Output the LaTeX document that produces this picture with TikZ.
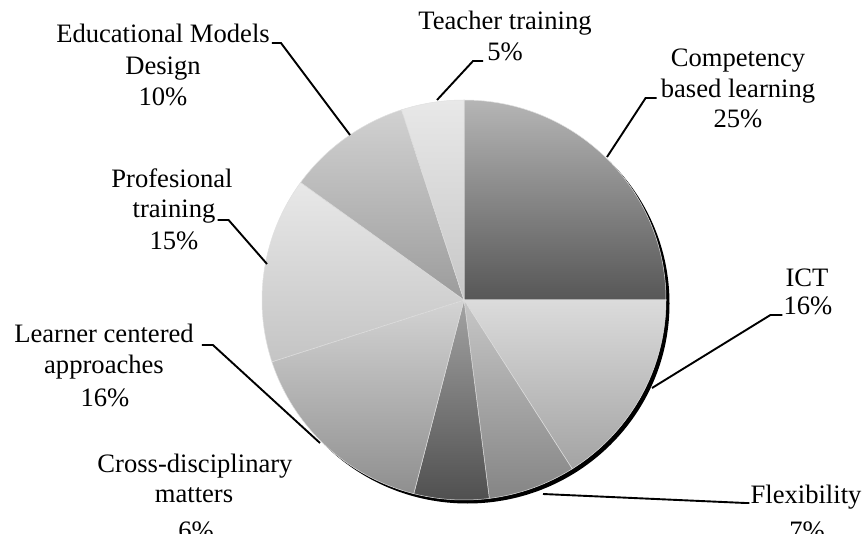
\documentclass[tikz,border=0pt]{standalone}
\usepackage{fontspec}
\setmainfont{Liberation Serif}
\begin{document}
\begin{tikzpicture}[x=1pt,y=1pt,
  lbl/.style={font=\fontsize{26.6}{31}\selectfont, inner sep=0pt, anchor=base},
  leader/.style={line width=1.9pt, black},
  slice/.style={draw=white!88!black, line width=0.5pt}]
\useasboundingbox (0,0) rectangle (867,533);
\coordinate (C) at (464,233);
% shadow edge
\fill[black] (467.5,229.5) ellipse [x radius=202, y radius=200];
% slices
\shadedraw[slice, top color=black!29, bottom color=black!66] (C) -- ++(0:202 and 200) arc[start angle=0, end angle=90, x radius=202, y radius=200] -- cycle;
\shadedraw[slice, top color=black!14, bottom color=black!36] (C) -- ++(-57.6:202 and 200) arc[start angle=-57.6, end angle=0, x radius=202, y radius=200] -- cycle;
\shadedraw[slice, top color=black!22, bottom color=black!48] (C) -- ++(-82.8:202 and 200) arc[start angle=-82.8, end angle=-57.6, x radius=202, y radius=200] -- cycle;
\shadedraw[slice, top color=black!36, bottom color=black!69] (C) -- ++(-104.4:202 and 200) arc[start angle=-104.4, end angle=-82.8, x radius=202, y radius=200] -- cycle;
\shadedraw[slice, top color=black!17, bottom color=black!44] (C) -- ++(-162:202 and 200) arc[start angle=-162, end angle=-104.4, x radius=202, y radius=200] -- cycle;
\shadedraw[slice, top color=black!9, bottom color=black!23] (C) -- ++(144:202 and 200) arc[start angle=144, end angle=198, x radius=202, y radius=200] -- cycle;
\shadedraw[slice, top color=black!18, bottom color=black!39] (C) -- ++(108:202 and 200) arc[start angle=108, end angle=144, x radius=202, y radius=200] -- cycle;
\shadedraw[slice, top color=black!9, bottom color=black!22] (C) -- ++(90:202 and 200) arc[start angle=90, end angle=108, x radius=202, y radius=200] -- cycle;
% labels
\node[lbl] (edu1) at (163,490) {Educational Models};
\node[lbl] (edu2) at (163,458) {Design};
\node[lbl] (edu3) at (163,427) {10\%};
\node[lbl] (tea1) at (505,503.5) {Teacher training};
\node[lbl] (tea2) at (505,472) {5\%};
\node[lbl] (com1) at (738,466) {Competency};
\node[lbl] (com2) at (738,435) {based learning};
\node[lbl] (com3) at (738,405) {25\%};
\node[lbl] (ict1) at (807,246) {ICT};
\node[lbl] (ict2) at (808,218) {16\%};
\node[lbl] (fle1) at (806,30) {Flexibility};
\node[lbl] (fle2) at (807,-6) {7\%};
\node[lbl] (cro1) at (195,61) {Cross-disciplinary};
\node[lbl] (cro2) at (194,31) {matters};
\node[lbl] (cro3) at (196,-6.5) {6\%};
\node[lbl] (lea1) at (104,190) {Learner centered};
\node[lbl] (lea2) at (104,159) {approaches};
\node[lbl] (lea3) at (105,126) {16\%};
\node[lbl] (pro1) at (172,345) {Profesional};
\node[lbl] (pro2) at (174,315) {training};
\node[lbl] (pro3) at (174,283) {15\%};
% leader end points on the pie
\coordinate (eEdu) at (350,398);
\coordinate (eTea) at (437,433);
\coordinate (eCom) at (607,376);
\coordinate (eIct) at (652,145);
\coordinate (eFle) at (543,39);
\coordinate (eLea) at (320,90);
\coordinate (ePro) at (267,269);
% leaders
\draw[leader] ([xshift=2pt]edu1.base east) -- ++(9,0) -- (eEdu);
\draw[leader] ([xshift=-4pt]tea2.base west) -- ++(-10,0) -- (eTea);
\draw[leader] ([xshift=-4pt]com2.base west) -- ++(-11,0) -- (eCom);
\draw[leader] ([xshift=-1pt]ict2.base west) -- ++(-12,0) -- (eIct);
\draw[leader] ([xshift=-1pt]fle1.base west) -- ++(-4,0) -- (eFle);
\draw[leader] ([xshift=8pt,yshift=-2pt]lea1.base east) -- ++(11,0) -- (eLea);
\draw[leader] ([xshift=2pt,yshift=-2pt]pro2.base east) -- ++(11,0) -- (ePro);
\end{tikzpicture}
\end{document}
